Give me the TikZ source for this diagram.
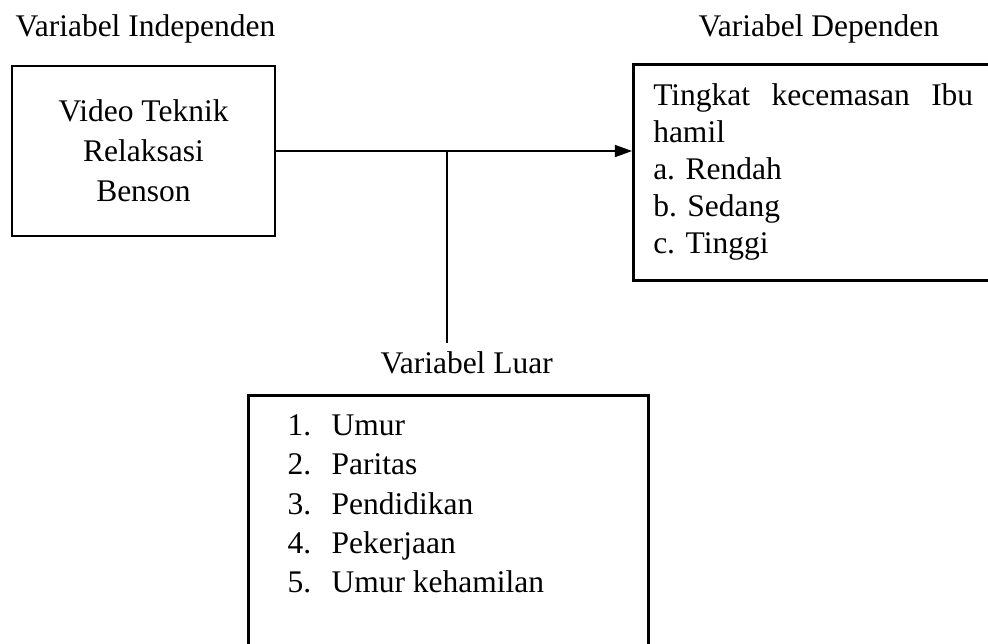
\documentclass[tikz,border=0pt]{standalone}
\usepackage{fontspec}
\setmainfont{Liberation Serif}
\frenchspacing
\usepackage{tikz}
\usetikzlibrary{positioning, arrows.meta, calc}
\tikzset{
  framebox/.style  = {draw, line width=1pt, inner sep=0pt},
  headtext/.style  = {inner sep=0pt, anchor=base west, font=\fontsize{12}{14}\selectfont},
  linkline/.style  = {line width=0.55pt},
  linkarrow/.style = {-{Triangle[length=6.5pt, width=4.6pt]}, line width=0.55pt}
}

\begin{document}
\begin{tikzpicture}[x=0.381pt, y=-0.381pt]

    \useasboundingbox (0,0) rectangle (988,643);
    \clip (0,0) rectangle (988,643);

    % --- Headings -----------------------------------------------------------
    \node[headtext] (indephead) at (15, 36)  {Variabel Independen};
    \node[headtext] (dephead)   at (698, 36) {Variabel Dependen};
    \node[headtext] (luarhead)  at (380, 373) {Variabel Luar};

    % --- Boxes --------------------------------------------------------------
    \node[framebox, minimum width=100.2pt, minimum height=64.8pt,
          align=center, font=\fontsize{12}{15.2}\selectfont] (indep) at (143.5, 151)
      {Video Teknik\\Relaksasi\\Benson};

    \node[framebox, anchor=north west, text width=121.9pt, inner xsep=7.6pt,
          minimum height=82.3pt, align=left,
          font=\fontsize{12}{14.1}\selectfont] (dep) at (632, 63)
      {Tingkat\hfill kecemasan\hfill Ibu\\
       hamil\\
       a. Rendah\\
       b. Sedang\\
       c. Tinggi};

    \node[framebox, anchor=north west, minimum width=152.4pt,
          minimum height=114.3pt] (luar) at (247, 394) {};

    \node[inner sep=0pt, anchor=north west, align=left,
          font=\fontsize{12}{15}\selectfont] (luarlist) at (287, 414)
      {\makebox[16.8pt][l]{1.}Umur\\
       \makebox[16.8pt][l]{2.}Paritas\\
       \makebox[16.8pt][l]{3.}Pendidikan\\
       \makebox[16.8pt][l]{4.}Pekerjaan\\
       \makebox[16.8pt][l]{5.}Umur kehamilan};

    % --- Connectors ---------------------------------------------------------
    \coordinate (junc)    at (447, 151);
    \coordinate (luarend) at (447, 343);

    \draw[linkarrow] (indep.east) -- (indep.east -| dep.west);
    \draw[linkline]  (junc) -- (luarend);

  \end{tikzpicture}
\end{document}
